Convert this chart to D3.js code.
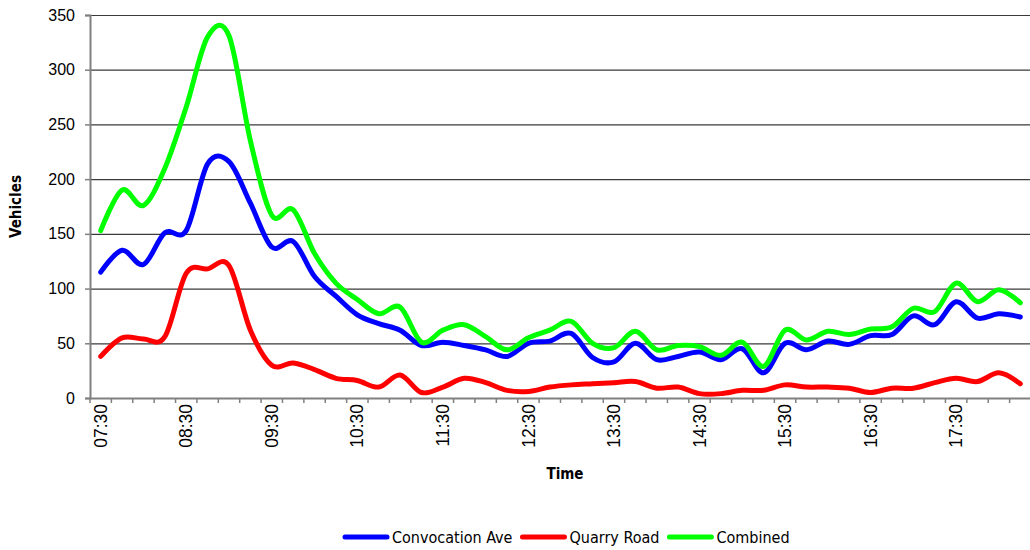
<!DOCTYPE html>
<html>
<head>
<meta charset="utf-8">
<script src="https://cdn.jsdelivr.net/npm/d3@7"></script>
<style>
  body { margin: 0; background: #fff; }
  svg { display: block; font-family: "DejaVu Sans Condensed", "DejaVu Sans", sans-serif; }
</style>
</head>
<body>
<div id="chart"></div>
<script>
// créneaux de 15 minutes
var times = ["07:30","07:45","08:00","08:15","08:30","08:45","09:00","09:15","09:30","09:45",
  "10:00","10:15","10:30","10:45","11:00","11:15","11:30","11:45","12:00","12:15",
  "12:30","12:45","13:00","13:15","13:30","13:45","14:00","14:15","14:30","14:45",
  "15:00","15:15","15:30","15:45","16:00","16:15","16:30","16:45","17:00","17:15",
  "17:30","17:45","18:00","18:15"];

// comptages
var convocation = [115,135,122,151,153,214,216,178,138,143,
  111,93,76,68,62,48,51,48,44,38,
  50,52,59,37,33,50,35,38,42,35,
  45,23,50,44,52,49,57,58,75,67,
  88,73,77,74];
var quarry = [38,55,54,56,114,118,121,62,30,32,
  26,18,16,10,21,5,10,18,14,7,
  6,10,12,13,14,15,9,10,4,4,
  7,7,12,10,10,9,5,9,9,14,
  18,15,23,13];
var combined = [153,190,176,210,266,330,331,235,167,172,
  132,105,90,77,83,51,62,67,56,44,
  55,62,70,50,46,61,44,48,47,39,
  51,29,62,53,61,58,63,65,82,79,
  105,88,99,87];

var yTicks = [0,50,100,150,200,250,300,350];
var timeLabels = ["07:30","08:30","09:30","10:30","11:30","12:30","13:30","14:30","15:30","16:30","17:30"];

var series = [
  {name: "Convocation Ave", values: convocation, color: "#0000ff"},
  {name: "Quarry Road", values: quarry, color: "#ff0000"},
  {name: "Combined", values: combined, color: "#00ff00"}
];

var width = 1030, height = 550;
var margin = {top: 15, right: -1, bottom: 152, left: 90};

var svg = d3.select("#chart").append("svg")
  .attr("width", width)
  .attr("height", height);

var x = d3.scaleBand()
  .domain(times)
  .range([margin.left, width - margin.right])
  .padding(0);

var y = d3.scaleLinear()
  .domain([0, 350])
  .range([height - margin.bottom, margin.top]);

// grille horizontale
svg.append("g")
  .selectAll("line")
  .data(yTicks.filter(d => d > 0))
  .join("line")
    .attr("x1", margin.left)
    .attr("x2", width)
    .attr("y1", d => y(d) + 0.5)
    .attr("y2", d => y(d) + 0.5)
    .attr("stroke", "#3a3a3a")
    .attr("stroke-width", 1.2);

// axe Y
var yAxis = svg.append("g")
  .attr("transform", `translate(${margin.left},0)`)
  .call(d3.axisLeft(y).tickValues(yTicks).tickSize(5).tickPadding(10));
yAxis.select(".domain").attr("stroke", "#808080").attr("stroke-width", 2);
yAxis.selectAll(".tick line").attr("stroke", "#808080").attr("stroke-width", 1.5);
yAxis.selectAll(".tick text")
  .attr("font-size", 16)
  .attr("font-family", null)
  .attr("fill", "#000");

// axe X
var xAxis = svg.append("g")
  .attr("transform", `translate(0,${y(0)})`)
  .call(d3.axisBottom(x).tickSize(0).tickFormat(d => timeLabels.includes(d) ? d : ""));
xAxis.select(".domain").attr("stroke", "#808080").attr("stroke-width", 2);
xAxis.selectAll(".tick text")
  .attr("font-size", 17.5)
  .attr("font-family", null)
  .attr("fill", "#000")
  .attr("text-anchor", "end")
  .attr("transform", "rotate(-90)")
  .attr("x", -6)
  .attr("y", 0)
  .attr("dy", "0.35em");

// petites graduations entre les créneaux
svg.append("g")
  .selectAll("line")
  .data(times)
  .join("line")
    .attr("x1", d => x(d))
    .attr("x2", d => x(d))
    .attr("y1", y(0))
    .attr("y2", y(0) + 5)
    .attr("stroke", "#808080")
    .attr("stroke-width", 1.5);

// courbes lissées
var line = d3.line()
  .x((d, i) => x(times[i]) + x.bandwidth() / 2)
  .y(d => y(d))
  .curve(d3.curveCardinal.tension(0));

svg.append("g")
  .selectAll("path")
  .data(series)
  .join("path")
    .attr("fill", "none")
    .attr("stroke", d => d.color)
    .attr("stroke-width", 5)
    .attr("stroke-linejoin", "round")
    .attr("stroke-linecap", "round")
    .attr("d", d => line(d.values));

// titres des axes
svg.append("text")
  .attr("transform", `translate(21,${(y(0) + y(350)) / 2}) rotate(-90)`)
  .attr("text-anchor", "middle")
  .attr("font-size", 15)
  .attr("font-weight", "bold")
  .text("Vehicles");

svg.append("text")
  .attr("x", 565)
  .attr("y", 479)
  .attr("text-anchor", "middle")
  .attr("font-size", 15)
  .attr("font-weight", "bold")
  .text("Time");

// légende
var legend = svg.append("g");
var lx = 343, ly = 537;
series.forEach(s => {
  legend.append("line")
    .attr("x1", lx + 2).attr("x2", lx + 44)
    .attr("y1", ly).attr("y2", ly)
    .attr("stroke", s.color)
    .attr("stroke-width", 5)
    .attr("stroke-linecap", "round");
  var t = legend.append("text")
    .attr("x", lx + 49)
    .attr("y", ly)
    .attr("dy", "0.35em")
    .attr("font-size", 16)
    .text(s.name);
  lx += 49 + t.node().getComputedTextLength() + 8;
});
</script>
</body>
</html>
